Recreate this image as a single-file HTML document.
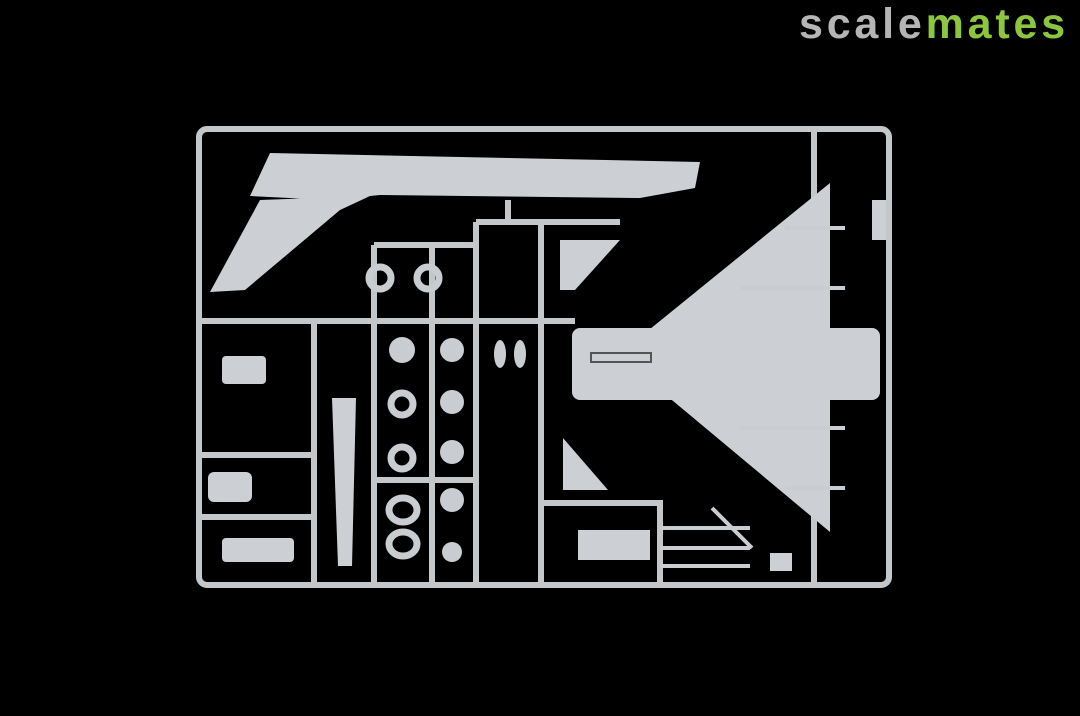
<!DOCTYPE html>
<html><head><style>
html,body{margin:0;padding:0;background:#000;width:1080px;height:716px;overflow:hidden}
.logo{position:absolute;left:799px;top:0px;font:bold 43px "Liberation Sans",sans-serif;letter-spacing:3.8px;white-space:nowrap}
</style></head><body>
<svg width="1080" height="716" style="position:absolute;left:0;top:0">
<rect width="1080" height="716" fill="#000"/>
<g fill="none" stroke="#c4c7ca" stroke-width="6">
<rect x="199" y="129" width="690" height="456" rx="8"/>
<line x1="199" y1="321" x2="575" y2="321"/>
<line x1="314" y1="321" x2="314" y2="585"/>
<line x1="374" y1="245" x2="374" y2="585"/>
<line x1="432" y1="245" x2="432" y2="585"/>
<line x1="476" y1="222" x2="476" y2="585"/>
<line x1="541" y1="222" x2="541" y2="585"/>
<line x1="660" y1="500" x2="660" y2="585"/>
<line x1="374" y1="245" x2="476" y2="245"/>
<line x1="476" y1="222" x2="541" y2="222"/>
<line x1="541" y1="222" x2="620" y2="222"/>
<line x1="199" y1="455" x2="314" y2="455"/>
<line x1="199" y1="517" x2="314" y2="517"/>
<line x1="374" y1="480" x2="476" y2="480"/>
<line x1="541" y1="503" x2="660" y2="503"/>
<line x1="814" y1="129" x2="814" y2="585"/>
<line x1="508" y1="200" x2="508" y2="222"/>
</g>
<g fill="#ccd0d4">
<path d="M270 153 L700 162 L695 188 L640 198 L380 195 L330 200 L250 196 Z"/>
<path d="M210 292 L260 200 L370 196 L340 210 L245 290 Z"/>
<path d="M830 183 L830 532 L618 355 Z"/>
<rect x="572" y="328" width="308" height="72" rx="8"/>
<path d="M560 240 L620 240 L575 290 L560 290 Z"/>
<path d="M563 438 L608 490 L620 490 L563 490 Z"/>
<rect x="222" y="356" width="44" height="28" rx="4"/>
<rect x="222" y="538" width="72" height="24" rx="4"/>
<rect x="208" y="472" width="44" height="30" rx="6"/>
<path d="M332 398 L356 398 L352 566 L338 566 Z"/>
<path d="M578 530 L650 530 L650 560 L578 560 Z"/>
<rect x="770" y="553" width="22" height="18"/>
<rect x="872" y="200" width="14" height="40"/>
</g>
<g fill="none" stroke="#555" stroke-width="2"><rect x="591" y="353" width="60" height="9"/></g>
<g fill="none" stroke="#c9ccd0" stroke-width="7">
<circle cx="380" cy="278" r="11"/><circle cx="428" cy="278" r="11"/>
<circle cx="402" cy="404" r="11"/><circle cx="402" cy="458" r="11"/>
<ellipse cx="403" cy="510" rx="14" ry="12"/><ellipse cx="403" cy="544" rx="14" ry="12"/>
</g>
<g fill="#c9ccd0">
<circle cx="402" cy="350" r="13"/>
<circle cx="452" cy="350" r="12"/><circle cx="452" cy="402" r="12"/><circle cx="452" cy="452" r="12"/><circle cx="452" cy="500" r="12"/><circle cx="452" cy="552" r="10"/>
<ellipse cx="500" cy="354" rx="6" ry="14"/><ellipse cx="520" cy="354" rx="6" ry="14"/>
</g>
<g stroke="#c9ccd0" stroke-width="4">
<line x1="785" y1="228" x2="845" y2="228"/><line x1="740" y1="288" x2="845" y2="288"/>
<line x1="740" y1="428" x2="845" y2="428"/><line x1="785" y1="488" x2="845" y2="488"/>
<line x1="660" y1="528" x2="750" y2="528"/><line x1="660" y1="548" x2="750" y2="548"/><line x1="660" y1="566" x2="750" y2="566"/>
<line x1="712" y1="508" x2="752" y2="548"/>
</g>
</svg>
<div class="logo"><span style="color:#b5b5b5">scale</span><span style="color:#8cc63f">mates</span></div>
</body></html>
